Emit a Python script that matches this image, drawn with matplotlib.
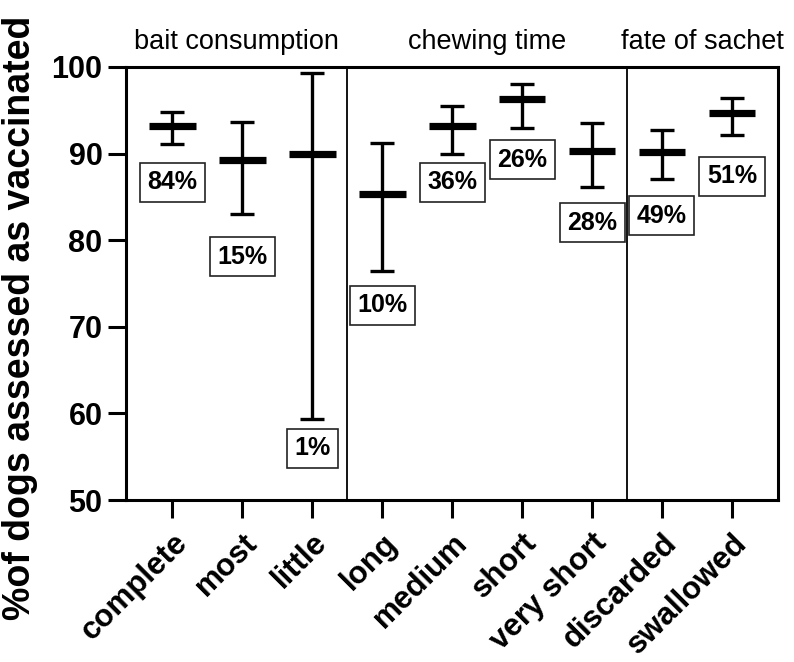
import numpy as np
import matplotlib
matplotlib.use('Agg')
import matplotlib.pyplot as plt

# data
categories = ['complete', 'most', 'little', 'long', 'medium', 'short',
              'very short', 'discarded', 'swallowed']
means = [93.2, 89.3, 90.0, 85.3, 93.2, 96.3, 90.3, 90.2, 94.7]
upper = [94.8, 93.6, 99.3, 91.2, 95.5, 98.0, 93.5, 92.7, 96.4]
lower = [91.1, 83.0, 59.4, 76.5, 89.9, 93.0, 86.1, 87.1, 92.1]
shares = ['84%', '15%', '1%', '10%', '36%', '26%', '28%', '49%', '51%']
share_y = [86.7, 78.1, 56.0, 72.5, 86.7, 89.3, 82.0, 82.8, 87.4]
groups = ['bait consumption', 'chewing time', 'fate of sachet']
group_bounds = [(-0.66, 2.5), (2.5, 6.5), (6.5, 8.66)]

plt.rcParams['font.family'] = ['Liberation Sans', 'DejaVu Sans']

fig = plt.figure(figsize=(7.94, 6.62), dpi=100)
ax = fig.add_axes([0.1587, 0.2447, 0.8213, 0.6541])

x = np.arange(len(categories))
means_a = np.array(means)
yerr = [means_a - np.array(lower), np.array(upper) - means_a]

ax.errorbar(x, means, yerr=yerr, fmt='none', ecolor='black',
            elinewidth=2.4, capsize=8.3, capthick=2.4, zorder=3)
ax.hlines(means, x - 0.335, x + 0.335, colors='black', lw=5.2, zorder=4)

for xi, s, sy in zip(x, shares, share_y):
    ax.text(xi, sy, s, ha='center', va='center', fontsize=18,
            fontweight='bold',
            bbox=dict(boxstyle='square,pad=0.3', fc='white', ec='#222222', lw=1.2))

for b in [2.5, 6.5]:
    ax.axvline(b, color='black', lw=1.3)

for g, (a, b) in zip(groups, group_bounds):
    ax.text((a + b) / 2, 1.058, g, transform=ax.get_xaxis_transform(),
            ha='center', va='center', fontsize=19.5)

ax.set_xlim(-0.66, 8.66)
ax.set_ylim(50, 100)
ax.set_yticks([50, 60, 70, 80, 90, 100])
ax.set_xticks(x)
ax.set_xticklabels(categories, rotation=45, ha='right', rotation_mode='anchor',
                   fontsize=22.5, fontweight='bold')
for lab in ax.get_yticklabels():
    lab.set_fontsize(22)
    lab.set_fontweight('bold')
ax.tick_params(axis='y', length=13, width=2.2, pad=4)
ax.tick_params(axis='x', length=13, width=2.2, pad=7)
for sp in ax.spines.values():
    sp.set_linewidth(2.2)

ax.set_ylabel('%of dogs assessed as vaccinated', fontsize=27,
              fontweight='bold')
ax.yaxis.set_label_coords(-0.135, 0.42)

fig.savefig('out.png', dpi=100)
